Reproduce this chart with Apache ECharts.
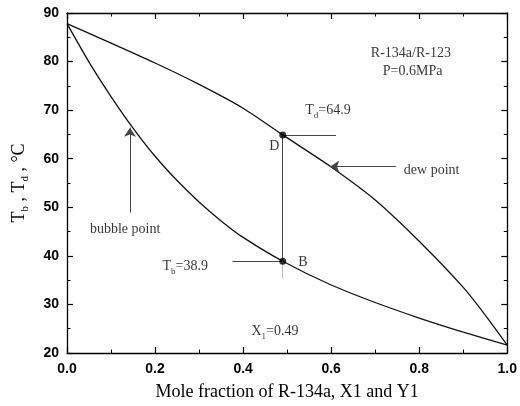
<!DOCTYPE html>
<html><head><meta charset="utf-8">
<script src="https://cdn.jsdelivr.net/npm/echarts@6/dist/echarts.min.js"></script>
<style>html,body{margin:0;padding:0;background:#fff}#chart{width:520px;height:406px}</style>
</head><body><div id="chart"></div>
<script>
// Dew-point temperature T_d (upper curve) against mole fraction of R-134a
const dewX = [0, 0.1, 0.2, 0.3, 0.4, 0.49, 0.6, 0.7, 0.8, 0.9, 0.95, 1.0];
const dewT = [87.8, 83.8, 79.7, 75.3, 70.4, 64.9, 58.3, 51.5, 43.0, 33.5, 27.8, 21.6];
// Bubble-point temperature T_b (lower curve)
const bubX = [0, 0.05, 0.1, 0.15, 0.2, 0.25, 0.3, 0.35, 0.4, 0.49, 0.6, 0.7, 0.8, 0.9, 1.0];
const bubT = [87.8, 79.9, 72.8, 66.3, 60.5, 55.5, 51.1, 47.2, 43.8, 38.9, 34.0, 30.4, 27.2, 24.3, 21.6];
// State points at X1 = 0.49
const x1 = 0.49;
const tD = 64.9;
const tB = 38.9;
// Axis ticks
const xTicks = [0.0, 0.2, 0.4, 0.6, 0.8, 1.0];
const yTicks = [20, 30, 40, 50, 60, 70, 80, 90];
// Guide and arrow segments, [x0, y0, x1, y1] in axis units
const leaderD = [x1, tD, 0.611, tD];
const leaderB = [0.376, tB, x1, tB];
const dewArrow = [0.747, 58.4, 0.598, 58.4];
const bubArrow = [0.143, 48.9, 0.143, 66.4];
const tieLine = [x1, tD, x1, tB];
const tieTail = [x1, tB, x1, 35.4];
// Annotation texts and their anchors in axis units
const noteText = ['R-134a/R-123', 'P=0.6MPa', '{n|T}{s|d}{n|=64.9}', 'D', 'dew point',
  'bubble point', '{n|T}{s|b}{n|=38.9}', 'B', '{n|X}{s|1}{n|=0.49}'];
const noteX = [0.781, 0.785, 0.541, 0.471, 0.765, 0.052, 0.217, 0.525, 0.419];
const noteY = [81.8, 77.9, 70.0, 62.6, 57.7, 45.5, 37.9, 38.7, 24.5];
const noteAlign = ['center', 'center', 'left', 'center', 'left', 'left', 'left', 'left', 'left'];

const serif = 'Liberation Serif';
const sans = 'Liberation Sans';

const zip = (xs, ys) => xs.map((x, i) => [x, ys[i]]);
const seg = s => [{ coord: [s[0], s[1]] }, { coord: [s[2], s[3]] }];

// Frame axis: black line with inward major and minor ticks
function frameAxis(extra) {
  return Object.assign({
    axisLine: { show: true, onZero: false, lineStyle: { color: '#000', width: 1.3 } },
    axisTick: { show: true, inside: true, length: 6, lineStyle: { color: '#000', width: 1.2 } },
    minorTick: { show: true, splitNumber: 2, length: 3.5, lineStyle: { color: '#000', width: 1 } },
    splitLine: { show: false }
  }, extra);
}

const xRange = { type: 'value', min: xTicks[0], max: xTicks[xTicks.length - 1], interval: xTicks[1] - xTicks[0] };
const yRange = { type: 'value', min: yTicks[0], max: yTicks[yTicks.length - 1], interval: yTicks[1] - yTicks[0] };

const noteRich = {
  n: { fontFamily: serif, fontSize: 14, color: '#000', lineHeight: 20, verticalAlign: 'middle' },
  s: { fontFamily: serif, fontSize: 9, color: '#000', lineHeight: 9, verticalAlign: 'bottom' }
};

const notes = noteText.map((t, i) => ({
  value: [noteX[i], noteY[i]],
  label: { formatter: t, align: noteAlign[i] }
}));

const chart = echarts.init(document.getElementById('chart'));

chart.setOption({
  animation: false,
  backgroundColor: '#fff',
  grid: { left: 67, right: 11, top: 13, bottom: 53 },
  xAxis: [
    frameAxis(Object.assign({
      position: 'bottom',
      axisLabel: { margin: 9, color: '#000', fontFamily: sans, fontSize: 14, fontWeight: 'bold', formatter: v => v.toFixed(1) },
      name: 'Mole fraction of R-134a, X1 and Y1', nameLocation: 'middle', nameGap: 30,
      nameTextStyle: { fontFamily: serif, fontSize: 18, color: '#000' }
    }, xRange)),
    frameAxis(Object.assign({ position: 'top', axisLabel: { show: false } }, xRange))
  ],
  yAxis: [
    frameAxis(Object.assign({
      position: 'left',
      axisLabel: { margin: 8, color: '#000', fontFamily: sans, fontSize: 14, fontWeight: 'bold' },
      name: '{m|T}{t|b}{m| , T}{t|d}{m| , °C}', nameLocation: 'middle', nameGap: 36, nameRotate: 90,
      nameTextStyle: {
        color: '#000',
        rich: {
          m: { fontFamily: serif, fontSize: 18, color: '#000', lineHeight: 24, verticalAlign: 'middle' },
          t: { fontFamily: serif, fontSize: 11, color: '#000', lineHeight: 11, verticalAlign: 'bottom' }
        }
      }
    }, yRange)),
    frameAxis(Object.assign({ position: 'right', axisLabel: { show: false } }, yRange))
  ],
  series: [
    {
      type: 'line', data: zip(dewX, dewT), smooth: 0.25,
      symbol: 'none', lineStyle: { color: '#111', width: 1.3 }, z: 3
    },
    {
      type: 'line', data: zip(bubX, bubT), smooth: 0.25,
      symbol: 'none', lineStyle: { color: '#111', width: 1.3 }, z: 3
    },
    {
      type: 'line', data: [], symbol: 'none',
      markLine: {
        silent: true, symbol: 'none', label: { show: false },
        lineStyle: { type: 'solid', color: '#444', width: 1 },
        data: [seg(tieLine), seg(leaderD), seg(leaderB)]
      }
    },
    {
      type: 'line', data: [], symbol: 'none',
      markLine: {
        silent: true, symbol: 'none', label: { show: false },
        lineStyle: { type: 'solid', color: '#bbb', width: 1 },
        data: [seg(tieTail)]
      }
    },
    {
      type: 'line', data: [], symbol: 'none',
      markLine: {
        silent: true, symbol: ['none', 'arrow'], symbolSize: 9, label: { show: false },
        lineStyle: { type: 'solid', color: '#444', width: 1 },
        data: [seg(dewArrow), seg(bubArrow)]
      }
    },
    {
      type: 'scatter', data: [[x1, tD], [x1, tB]],
      symbol: 'circle', symbolSize: 7, itemStyle: { color: '#000' }, z: 5
    },
    {
      type: 'scatter', data: notes, silent: true,
      symbol: 'circle', symbolSize: 1, itemStyle: { color: 'rgba(0,0,0,0)' }, z: 6,
      label: {
        show: true, position: 'inside', verticalAlign: 'middle',
        color: '#000', fontFamily: serif, fontSize: 14, rich: noteRich
      }
    }
  ]
});
</script>
</body></html>
